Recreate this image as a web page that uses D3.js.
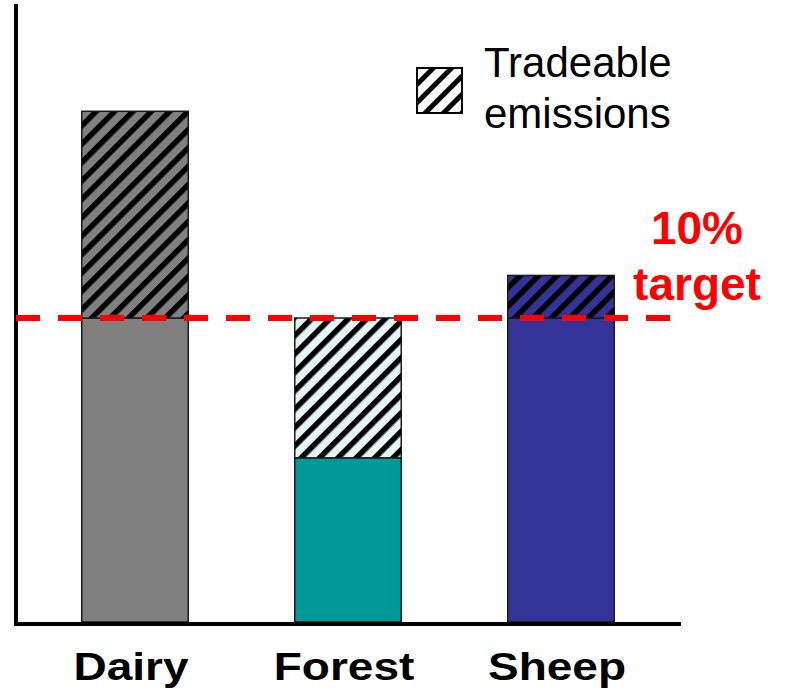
<!DOCTYPE html>
<html>
<head>
<meta charset="utf-8">
<script src="https://cdn.jsdelivr.net/npm/d3@7/dist/d3.min.js"></script>
<style>
  html, body { margin: 0; padding: 0; background: #fff; }
  svg { display: block; }
</style>
</head>
<body>
<script>
// Emission levels per land use (target = 100)
const categories = ["Dairy", "Forest", "Sheep"];
const emissions = [168, 54, 114];
const target = 100;
const baseColors = ["#808080", "#009999", "#333399"];
const hatchBackgrounds = ["#808080", "#e6f4f4", "#333399"];
const legendLines = ["Tradeable", "emissions"];
const targetLines = ["10%", "target"];

const W = 786, H = 699;
const svg = d3.select("body").append("svg").attr("width", W).attr("height", H);

const x = d3.scaleBand().domain(categories).range([28.5, 667.5])
  .paddingInner(0.5).paddingOuter(0.25);
const y = d3.scaleLinear().domain([0, 200]).range([622, 14]);

// Diagonal hatch patterns with softened stripe edges
const defs = svg.append("defs");
defs.append("filter").attr("id", "soft")
  .attr("x", "-20%").attr("y", "-20%").attr("width", "140%").attr("height", "140%")
  .append("feGaussianBlur").attr("stdDeviation", 0.7);
function hatch(id, bg, size, stripe) {
  const p = defs.append("pattern").attr("id", id)
    .attr("patternUnits", "userSpaceOnUse")
    .attr("width", size).attr("height", size)
    .attr("patternTransform", "rotate(45)");
  p.append("rect").attr("width", size).attr("height", size).attr("fill", bg);
  p.append("rect").attr("x", 1).attr("y", -2).attr("width", stripe).attr("height", size + 4)
    .attr("fill", "#000").attr("filter", "url(#soft)");
}
hatchBackgrounds.forEach((c, i) => hatch("hatch" + i, c, 13, 5.5));
hatch("hatchLegend", "#ffffff", 13, 5);

const rows = categories.map((c, i) => ({
  cat: c, value: emissions[i], base: Math.min(emissions[i], target),
  top: Math.max(emissions[i], target), i
}));

// Base (retained) part of each bar
svg.append("g").selectAll("rect").data(rows).join("rect")
  .attr("x", d => x(d.cat)).attr("width", x.bandwidth())
  .attr("y", d => y(d.base)).attr("height", d => y(0) - y(d.base))
  .attr("fill", d => baseColors[d.i])
  .attr("stroke", "#1a1a1a").attr("stroke-width", 1.5);

// Tradeable part between the actual level and the target
svg.append("g").selectAll("rect").data(rows).join("rect")
  .attr("x", d => x(d.cat)).attr("width", x.bandwidth())
  .attr("y", d => y(d.top)).attr("height", d => y(d.base) - y(d.top))
  .attr("fill", d => `url(#hatch${d.i})`)
  .attr("stroke", "#1a1a1a").attr("stroke-width", 1.5);

// Axes lines
svg.append("line").attr("x1", 16).attr("x2", 16).attr("y1", 4).attr("y2", 626)
  .attr("stroke", "#000").attr("stroke-width", 4);
svg.append("line").attr("x1", 14).attr("x2", 681).attr("y1", 624).attr("y2", 624)
  .attr("stroke", "#000").attr("stroke-width", 4);

// Target line
svg.append("line").attr("x1", 16).attr("x2", 672)
  .attr("y1", y(target)).attr("y2", y(target))
  .attr("stroke", "#ff0000").attr("stroke-width", 6)
  .attr("stroke-dasharray", "24 18");

// Category labels
svg.append("g").selectAll("text").data(categories).join("text")
  .attr("transform", d => `translate(${x(d) + x.bandwidth() / 2 - 4},680) scale(1.18,1)`)
  .attr("text-anchor", "middle")
  .attr("font-family", "Liberation Sans, Arial, sans-serif")
  .attr("font-weight", "bold").attr("font-size", 39)
  .attr("fill", "#000").text(d => d);

// Legend
svg.append("rect").attr("x", 417).attr("y", 68).attr("width", 45).attr("height", 45)
  .attr("fill", "url(#hatchLegend)").attr("stroke", "#000").attr("stroke-width", 2);
svg.append("g").selectAll("text").data(legendLines).join("text")
  .attr("x", 484).attr("y", (d, i) => 77 + i * 51)
  .attr("font-family", "Liberation Sans, Arial, sans-serif")
  .attr("font-size", 42).attr("fill", "#000").text(d => d);

// Target annotation
svg.append("g").selectAll("text").data(targetLines).join("text")
  .attr("x", 697).attr("y", (d, i) => 244 + i * 56)
  .attr("text-anchor", "middle")
  .attr("font-family", "Liberation Sans, Arial, sans-serif")
  .attr("font-weight", "bold").attr("font-size", 46)
  .attr("fill", "#ff0000").text(d => d);
</script>
</body>
</html>
